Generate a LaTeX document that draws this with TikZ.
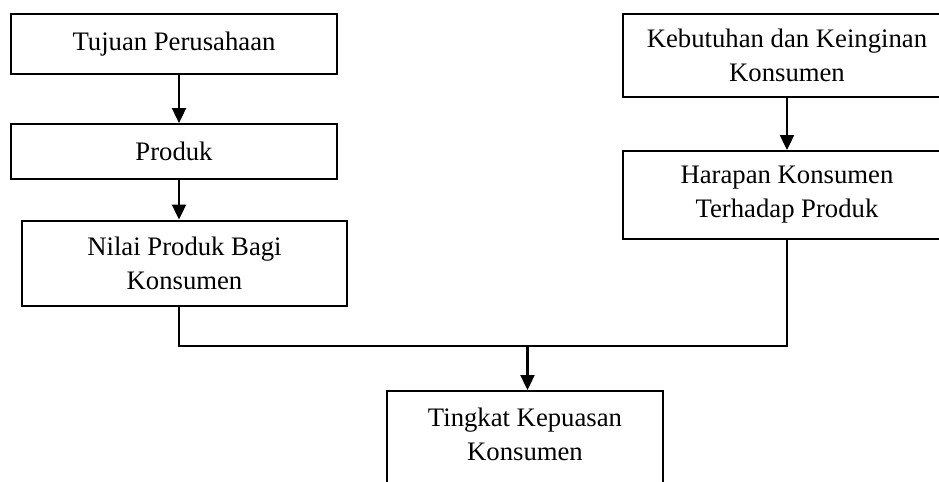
\documentclass[tikz,border=0pt]{standalone}
\usepackage{fontspec}
\setmainfont{Liberation Serif}
\usetikzlibrary{arrows.meta}
\begin{document}
\begin{tikzpicture}[x=0.5pt, y=-0.5pt,
    kotak/.style ={rectangle, draw, line width=1pt, align=center, inner sep=0pt,
      font=\fontsize{13.35}{17}\selectfont},
    panah/.style ={line width=1.2pt, -{Triangle[width=7pt,length=7.5pt]}},
    garis/.style ={line width=1.2pt}]
   \useasboundingbox (0,0) rectangle (939,482);
   \clip (0,0) rectangle (939,482);
   \node[kotak, minimum width=163pt, minimum height=30pt] (tujuan) at (174,44) {Tujuan Perusahaan};
   \node[kotak, minimum width=163pt, minimum height=27.5pt] (produk) at (174,151.5) {Produk};
   \node[kotak, minimum width=162.5pt, minimum height=42.5pt] (nilai) at (184.5,263) {Nilai Produk Bagi\\Konsumen};
   \node[kotak, minimum width=164pt, minimum height=41.5pt] (kebutuhan) at (787,55.5) {Kebutuhan dan Keinginan\\Konsumen};
   \node[kotak, minimum width=164pt, minimum height=44pt] (harapan) at (787,195) {Harapan Konsumen\\Terhadap Produk};
   \node[kotak, minimum width=138pt, minimum height=50pt, text depth=7pt] (tingkat) at (525,441) {Tingkat Kepuasan\\Konsumen};
   \coordinate (gabung) at (527.5,346);

   \draw[panah] ([xshift=2.5pt]tujuan.south) to ([xshift=2.5pt]produk.north);
   \draw[panah] ([xshift=2.5pt]produk.south) to ([xshift=-2.75pt]nilai.north);
   \draw[panah] (kebutuhan) to (harapan);
   \draw[garis] ([xshift=-2.75pt]nilai.south) |- (gabung) -| (harapan.south);
   \draw[panah] (gabung) to (gabung |- tingkat.north);
 \end{tikzpicture}
\end{document}
